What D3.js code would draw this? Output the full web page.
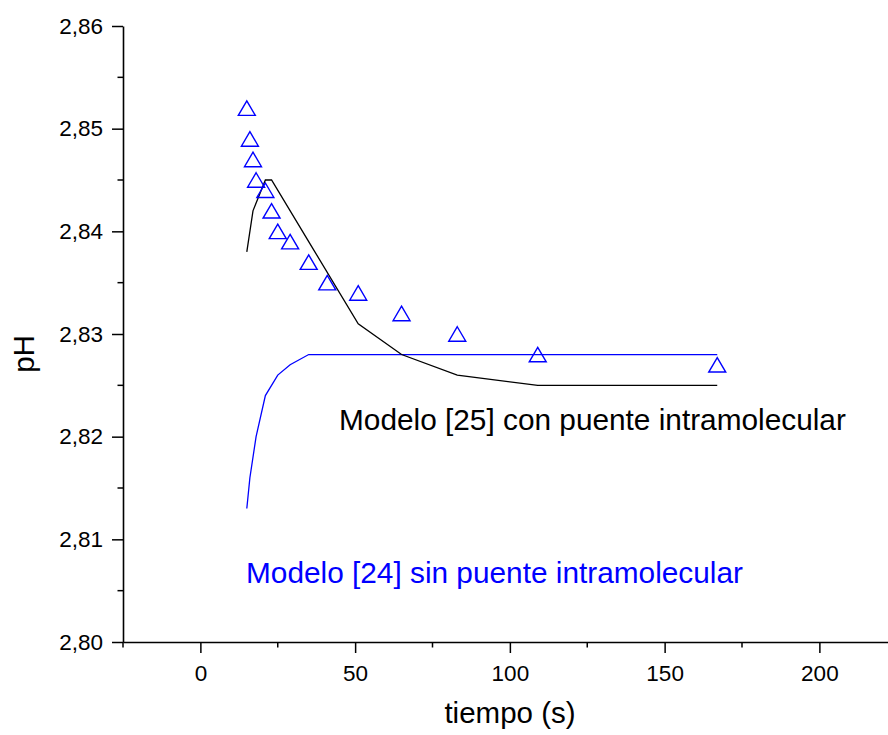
<!DOCTYPE html>
<html>
<head>
<meta charset="utf-8">
<script src="https://cdn.jsdelivr.net/npm/d3@7"></script>
<style>
  html, body { margin: 0; padding: 0; background: #fff; }
  svg { display: block; font-family: "Liberation Sans", Arial, sans-serif; }
</style>
</head>
<body>
<svg id="chart" width="888" height="735"></svg>
<script>
// Measured pH over time (triangles)
const expTime = [15, 16, 17, 18, 21, 23, 25, 29, 35, 41, 51, 65, 83, 109, 167];
const expPH   = [2.852, 2.849, 2.847, 2.845, 2.844, 2.842, 2.840, 2.839, 2.837, 2.835, 2.834, 2.832, 2.830, 2.828, 2.827];

// Model [25], with intramolecular bridge (black line)
const model25Time = [15, 17, 21, 23, 35, 51, 65, 83, 109, 167];
const model25PH   = [2.838, 2.842, 2.845, 2.845, 2.839, 2.831, 2.828, 2.826, 2.825, 2.825];

// Model [24], without intramolecular bridge (blue line)
const model24Time = [15, 16, 18, 21, 25, 29, 35, 167];
const model24PH   = [2.813, 2.816, 2.820, 2.824, 2.826, 2.827, 2.828, 2.828];

const xMajorTicks = [0, 50, 100, 150, 200];
const xMinorTicks = [-25, 25, 75, 125, 175];
const yMajorTicks = [2.80, 2.81, 2.82, 2.83, 2.84, 2.85, 2.86];
const yMinorTicks = [2.805, 2.815, 2.825, 2.835, 2.845, 2.855];

const svg = d3.select("#chart");

const x = d3.scaleLinear().domain([-25, 225]).range([123, 896.75]);
const y = d3.scaleLinear().domain([2.80, 2.86]).range([642, 26]);

const fmtY = v => d3.format(".2f")(v).replace(".", ",");

// Model curves
const line = d3.line().x(d => x(d[0])).y(d => y(d[1]));

svg.append("path")
  .datum(d3.zip(model24Time, model24PH))
  .attr("d", line)
  .attr("fill", "none")
  .attr("stroke", "#0000ff")
  .attr("stroke-width", 1.3);

svg.append("path")
  .datum(d3.zip(model25Time, model25PH))
  .attr("d", line)
  .attr("fill", "none")
  .attr("stroke", "#000")
  .attr("stroke-width", 1.3);

// Experimental points as open up-triangles
const triW = 17, triH = 14.5;
svg.append("g")
  .selectAll("path")
  .data(d3.zip(expTime, expPH))
  .join("path")
  .attr("transform", d => `translate(${x(d[0])},${y(d[1])})`)
  .attr("d", `M0,${-triH / 2}L${triW / 2},${triH / 2}L${-triW / 2},${triH / 2}Z`)
  .attr("fill", "none")
  .attr("stroke", "#0000ff")
  .attr("stroke-width", 1.4);

// Axes
const xAxis = svg.append("g").attr("transform", `translate(0,${y(2.80)})`);
xAxis.call(d3.axisBottom(x).tickValues(xMajorTicks).tickSize(11).tickSizeOuter(0).tickPadding(12).tickFormat(d3.format("d")));
xAxis.append("g").selectAll("line").data(xMinorTicks).join("line")
  .attr("x1", d => x(d)).attr("x2", d => x(d)).attr("y1", 0).attr("y2", 5.5)
  .attr("stroke", "#000").attr("stroke-width", 1.5);

const yAxis = svg.append("g").attr("transform", `translate(${x(-25)},0)`);
yAxis.call(d3.axisLeft(y).tickValues(yMajorTicks).tickSize(11).tickSizeOuter(0).tickPadding(9).tickFormat(fmtY));
yAxis.append("g").selectAll("line").data(yMinorTicks).join("line")
  .attr("y1", d => y(d)).attr("y2", d => y(d)).attr("x1", 0).attr("x2", -5.5)
  .attr("stroke", "#000").attr("stroke-width", 1.5);

svg.selectAll(".domain").attr("stroke", "#000").attr("stroke-width", 1.6);
svg.selectAll(".tick line").attr("stroke", "#000").attr("stroke-width", 1.5);
svg.selectAll(".tick text")
  .attr("font-family", "'Liberation Sans', Arial, sans-serif")
  .attr("font-size", 22.5)
  .attr("fill", "#000");

// Axis titles
svg.append("text")
  .attr("x", 510).attr("y", 723)
  .attr("text-anchor", "middle")
  .attr("font-size", 29.5)
  .text("tiempo (s)");

svg.append("text")
  .attr("transform", "translate(34,354) rotate(-90)")
  .attr("text-anchor", "middle")
  .attr("font-size", 29.5)
  .text("pH");

// Curve annotations
svg.append("text")
  .attr("x", 339).attr("y", 430)
  .attr("font-size", 29.8)
  .attr("fill", "#000")
  .text("Modelo [25] con puente intramolecular");

svg.append("text")
  .attr("x", 246).attr("y", 583)
  .attr("font-size", 29.8)
  .attr("fill", "#0000ff")
  .text("Modelo [24] sin puente intramolecular");
</script>
</body>
</html>
